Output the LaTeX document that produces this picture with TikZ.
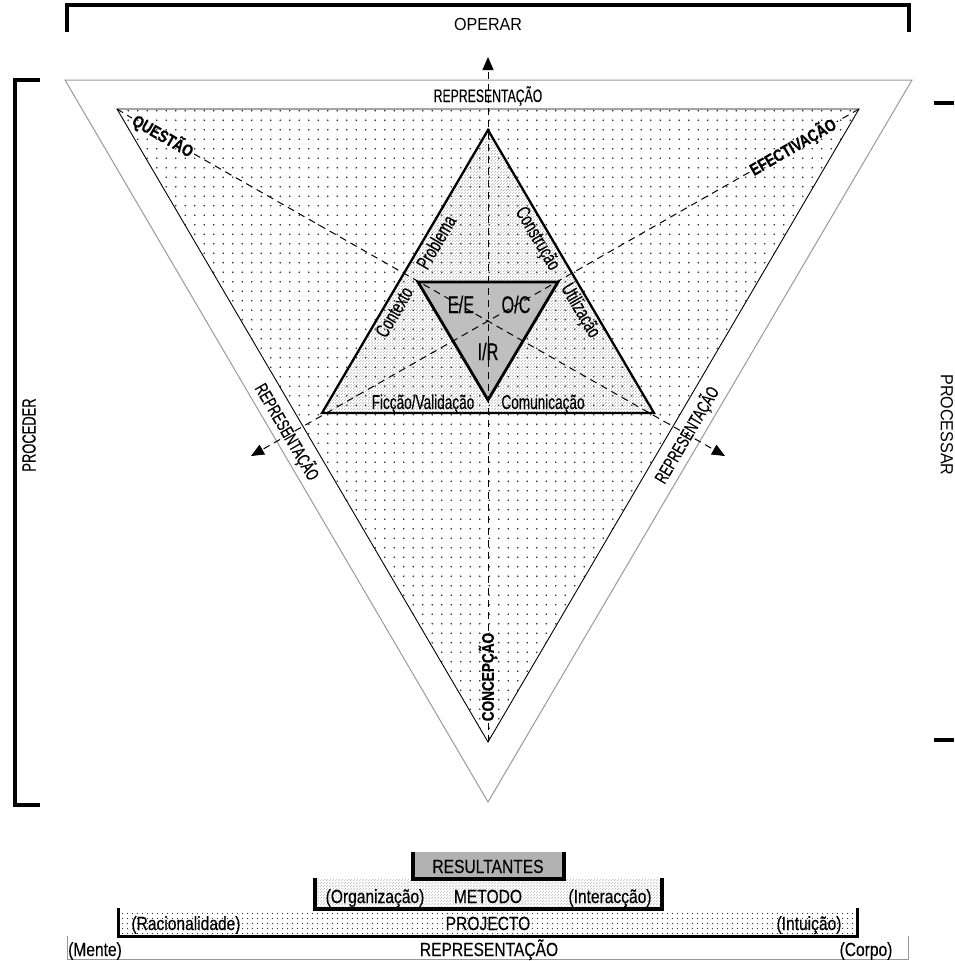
\documentclass[tikz,border=0pt]{standalone}
\usepackage{fontspec}
\setmainfont{Liberation Sans}
\newfontfamily\narrowf[FakeStretch=0.68,FakeBold=0.25]{Liberation Sans}
\newfontfamily\botf[FakeStretch=0.82,FakeBold=0.25]{Liberation Sans}
\newfontfamily\opf[FakeStretch=0.92]{Liberation Sans}
\newfontfamily\boldf[FakeStretch=0.8,FakeBold=0.6]{Liberation Sans Bold}
\usetikzlibrary{patterns,arrows.meta}
\newcommand\myfs[1]{\fontsize{#1}{#1}\selectfont}
\pgfdeclarepatternformonly{sparsedots}{\pgfqpoint{-1pt}{-1pt}}{\pgfqpoint{11pt}{11pt}}{\pgfqpoint{9.5pt}{9.5pt}}{\pgfpathcircle{\pgfqpoint{4.75pt}{4.75pt}}{0.8pt}\pgfusepath{fill}}
\pgfdeclarepatternformonly{middots}{\pgfqpoint{-1pt}{-1pt}}{\pgfqpoint{6pt}{6pt}}{\pgfqpoint{5pt}{5pt}}{\pgfpathcircle{\pgfqpoint{2.5pt}{2.5pt}}{0.6pt}\pgfusepath{fill}}
\pgfdeclarepatternformonly{densedots}{\pgfqpoint{-1pt}{-1pt}}{\pgfqpoint{4pt}{4pt}}{\pgfqpoint{3pt}{3pt}}{\pgfpathcircle{\pgfqpoint{0.75pt}{0.75pt}}{0.48pt}\pgfpathcircle{\pgfqpoint{2.25pt}{2.25pt}}{0.48pt}\pgfusepath{fill}}
\begin{document}
\begin{tikzpicture}[x=1pt,y=-1pt,
  lab/.style={inner sep=1pt},
  midlab/.style={lab, font=\narrowf\myfs{20}},
  replab/.style={lab, font=\narrowf\myfs{18}},
  boldlab/.style={lab, inner sep=2pt, font=\boldf\myfs{17}},
  biglab/.style={lab, font=\narrowf\myfs{24}},
  botlab/.style={lab, anchor=base, font=\botf\myfs{19}},
  brlab/.style={lab, font=\opf\myfs{17.5}},
  dashline/.style={dash pattern=on 7pt off 5pt, line width=1pt},
  arr/.style={-{Triangle[length=13pt,width=11pt]}},
  brack/.style={line width=4pt},
]
\useasboundingbox (0,0) rectangle (954,961);

% brackets
\draw[brack] (67,32) -- (67,5) -- (909,5) -- (909,32);
\node[brlab, anchor=base] (operar) at (488,30) {OPERAR};
\draw[brack] (40,80) -- (15,80) -- (15,805) -- (40,805);
\node[replab, font=\narrowf\myfs{19}, rotate=90] (proceder) at (29,435) {PROCEDER};
\draw[brack] (934,103) -- (954,103);
\draw[brack] (934,740) -- (954,740);
\node[brlab, rotate=-90] (processar) at (947,425) {PROCESSAR};

% triangles
\draw[black!40, line width=1pt] (65,80) -- (912,80) -- (488,802) -- cycle;
\draw[pattern=sparsedots, pattern color=black!85, line width=0.9pt] (117,109) -- (859,109) -- (488,742) -- cycle;
\draw[pattern=densedots, pattern color=black!70, line width=2.3pt, line join=miter] (488,130) -- (654,413) -- (322,413) -- cycle;
\draw[fill=black!25, line width=2.8pt, line join=miter] (418,282) -- (558,282) -- (488,400) -- cycle;

% coordinates
\coordinate (tl) at (117,109);
\coordinate (tr) at (859,109);
\coordinate (bt) at (488,742);
\coordinate (aup) at (488,57);
\coordinate (aright) at (725,456);
\coordinate (aleft) at (251,456);

% labels on axes
\node[boldlab, rotate=-30] (quest) at (163,136) {QUESTÃO};
\node[boldlab, rotate=30] (efect) at (793,147) {EFECTIVAÇÃO};
\node[boldlab, rotate=90] (concep) at (488,677) {CONCEPÇÃO};

% dashed axes
\draw[dashline] (tl) -- (quest.west);
\draw[dashline, arr] (quest.east) -- (aright);
\draw[dashline] (tr) -- (efect.east);
\draw[dashline, arr] (efect.west) -- (aleft);
\draw[dashline] (bt) -- (concep.west);
\draw[dashline, arr] (concep.east) -- (aup);

% representation labels
\node[replab, anchor=base] (reptop) at (488,102) {REPRESENTAÇÃO};
\node[replab, rotate=-59.6] (repleft) at (287,432) {REPRESENTAÇÃO};
\node[replab, rotate=59.6] (repright) at (687,435) {REPRESENTAÇÃO};

% middle triangle labels
\node[midlab, rotate=59.6] (probl) at (436,242) {Problema};
\node[midlab, rotate=59.6] (context) at (394,312) {Contexto};
\node[midlab, rotate=-59.6] (constr) at (537,239) {Construção};
\node[midlab, rotate=-59.6] (utiliz) at (580,311) {Utilização};
\node[midlab, anchor=base] (ficcao) at (423,409) {Ficção/Validação};
\node[midlab, anchor=base] (comun) at (543,409) {Comunicação};

% inner labels
\node[biglab, anchor=base] (ee) at (461,313) {E/E};
\node[biglab, anchor=base] (oc) at (516,313) {O/C};
\node[biglab, anchor=base] (ir) at (488,360) {I/R};

% bottom boxes
\draw[black!40, line width=1pt] (67,936) -- (67,959) -- (908,959) -- (908,936);
\fill[pattern=middots, pattern color=black!80] (118,909) rectangle (857,936);
\draw[line width=3pt] (118,908) -- (118,936) -- (857,936) -- (857,908);
\fill[pattern=densedots, pattern color=black!60] (315,879) rectangle (662,909);
\draw[line width=4pt] (315,878) -- (315,909) -- (662,909) -- (662,878);
\fill[black!30] (413,852) rectangle (564,879);
\draw[line width=4pt] (413,852) -- (413,879) -- (564,879) -- (564,852);

\node[botlab] (result) at (488,873) {RESULTANTES};
\node[botlab] (organ) at (375,903) {(Organização)};
\node[botlab] (metodo) at (488,903) {METODO};
\node[botlab] (interac) at (610,903) {(Interacção)};
\node[botlab] (racion) at (186,930) {(Racionalidade)};
\node[botlab] (projecto) at (488,930) {PROJECTO};
\node[botlab] (intuic) at (809,930) {(Intuição)};
\node[botlab] (mente) at (95,956) {(Mente)};
\node[botlab] (repbot) at (489,956) {REPRESENTAÇÃO};
\node[botlab] (corpo) at (866,956) {(Corpo)};
\end{tikzpicture}
\end{document}
